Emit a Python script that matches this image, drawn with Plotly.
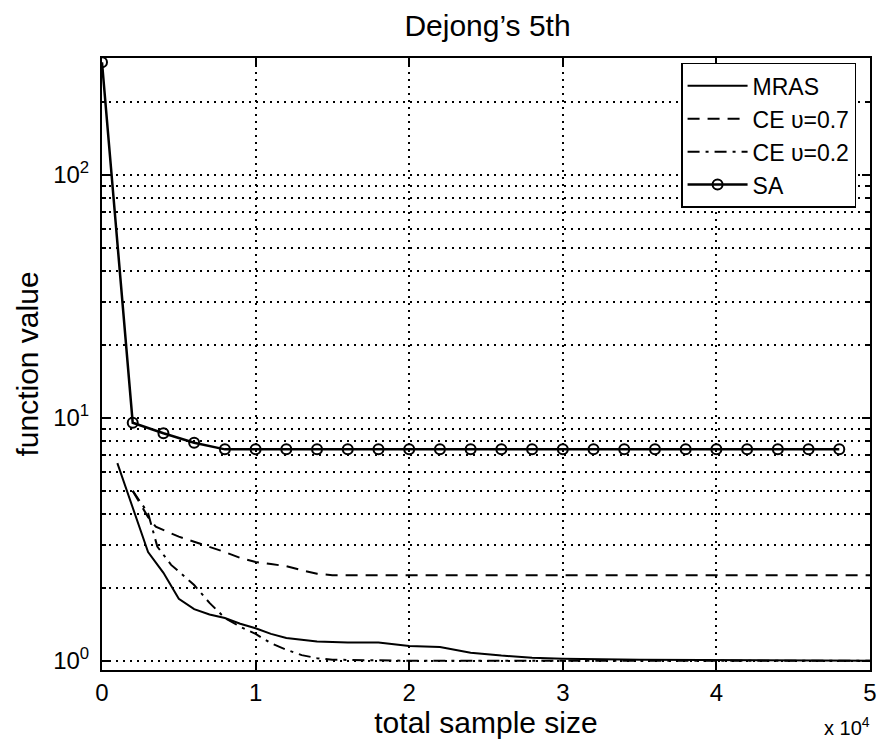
import plotly.graph_objects as go

# ---------------- data ----------------
mras_x = [1000, 2000, 3000, 4000, 5000, 6000, 7000, 8000, 9000, 10000, 11000, 12000,
          13000, 14000, 16000, 18000, 20000, 22000, 24000, 26000, 28000, 30000,
          35000, 40000, 45000, 50000]
mras_y = [6.5, 4.3, 2.8, 2.3, 1.8, 1.63, 1.55, 1.5, 1.42, 1.36, 1.29, 1.24,
          1.22, 1.2, 1.19, 1.19, 1.15, 1.14, 1.08, 1.05, 1.03, 1.02,
          1.01, 1.005, 1.0, 1.0]

ce07_x = [2000, 2500, 3000, 3500, 4000, 5000, 6000, 7000, 8000, 9000, 10000, 11000,
          12000, 13000, 14000, 15000, 20000, 30000, 40000, 50000]
ce07_y = [5.0, 4.4, 3.9, 3.56, 3.45, 3.24, 3.09, 2.95, 2.8, 2.65, 2.55, 2.5,
          2.45, 2.36, 2.28, 2.25, 2.25, 2.25, 2.25, 2.25]

ce02_x = [2000, 3000, 3600, 4500, 5000, 6000, 7000, 8000, 9000, 10000, 11000, 12000,
          13000, 14000, 15000, 20000, 30000, 40000, 50000]
ce02_y = [5.0, 4.05, 2.95, 2.48, 2.33, 2.05, 1.73, 1.5, 1.38, 1.29, 1.18, 1.11,
          1.055, 1.025, 1.01, 1.0, 1.0, 1.0, 1.0]

sa_x = [0, 2000, 4000, 6000, 8000, 10000, 12000, 14000, 16000, 18000, 20000, 22000,
        24000, 26000, 28000, 30000, 32000, 34000, 36000, 38000, 40000, 42000,
        44000, 46000, 48000]
sa_y = [290, 9.53, 8.63, 7.89, 7.41, 7.41, 7.41, 7.41, 7.41, 7.41, 7.41, 7.41,
        7.41, 7.41, 7.41, 7.41, 7.41, 7.41, 7.41, 7.41, 7.41, 7.41,
        7.41, 7.41, 7.41]

x_tickvals = [0, 10000, 20000, 30000, 40000, 50000]
x_ticktext = ["0", "1", "2", "3", "4", "5"]
y_tickvals = [1, 10, 100]
y_ticktext = ["10<sup>0</sup>", "10<sup>1</sup>", "10<sup>2</sup>"]
y_minor = [2, 3, 4, 5, 6, 7, 8, 9, 20, 30, 40, 50, 60, 70, 80, 90, 200, 300]

FONT = "Liberation Sans, Arial, Helvetica, sans-serif"

fig = go.Figure()
fig.add_trace(go.Scatter(x=mras_x, y=mras_y, mode="lines", name="MRAS",
                         line=dict(color="black", width=2)))
fig.add_trace(go.Scatter(x=ce07_x, y=ce07_y, mode="lines", name="CE υ=0.7",
                         line=dict(color="black", width=2, dash="12px,8px")))
fig.add_trace(go.Scatter(x=ce02_x, y=ce02_y, mode="lines", name="CE υ=0.2",
                         line=dict(color="black", width=2, dash="12px,6px,3px,6px")))
fig.add_trace(go.Scatter(x=sa_x, y=sa_y, mode="lines+markers", name="SA",
                         line=dict(color="black", width=2.5),
                         marker=dict(symbol="circle-open", size=10, color="black",
                                     line=dict(width=2, color="black"))))

grid_dash = "2px,5px"
fig.update_layout(
    width=888, height=742,
    margin=dict(l=102, r=11, t=58, b=72),
    paper_bgcolor="white", plot_bgcolor="white",
    font=dict(family=FONT, color="black", size=24),
    title=dict(text="Dejong’s 5th", x=0.549, xanchor="center", y=0.965, yanchor="middle",
               font=dict(size=30, family=FONT)),
    showlegend=True,
    legend=dict(x=0.754, xanchor="left", y=0.992, yanchor="top",
                bgcolor="white", bordercolor="black", borderwidth=1.5,
                font=dict(size=23, family=FONT), tracegroupgap=0,
                itemwidth=60),
    xaxis=dict(
        range=[0, 50000], tickvals=x_tickvals, ticktext=x_ticktext,
        showline=True, linecolor="black", linewidth=2, mirror="ticks",
        ticks="inside", ticklen=8, tickwidth=2, tickcolor="black",
        showgrid=True, gridcolor="black", gridwidth=1.5, griddash=grid_dash,
        zeroline=False, tickfont=dict(size=24),
        title=dict(text="total sample size", font=dict(size=30), standoff=0),
    ),
    yaxis=dict(
        type="log", range=[-0.038, 2.48],
        tickvals=y_tickvals, ticktext=y_ticktext,
        showline=True, linecolor="black", linewidth=2, mirror="ticks",
        ticks="inside", ticklen=8, tickwidth=2, tickcolor="black",
        showgrid=True, gridcolor="black", gridwidth=1.5, griddash=grid_dash,
        zeroline=False, tickfont=dict(size=24), ticklabelstandoff=6,
        minor=dict(tickvals=y_minor, ticks="inside", ticklen=4, tickwidth=1.5,
                   tickcolor="black", showgrid=True, gridcolor="black",
                   gridwidth=1.5, griddash=grid_dash),
        title=dict(text="function value", font=dict(size=30), standoff=6),
    ),
    annotations=[dict(text="x 10<sup>4</sup>", xref="paper", yref="paper",
                      x=1.002, y=-0.092, xanchor="right", yanchor="middle",
                      showarrow=False, font=dict(size=20, family=FONT))],
)

fig.write_html("out.html")
